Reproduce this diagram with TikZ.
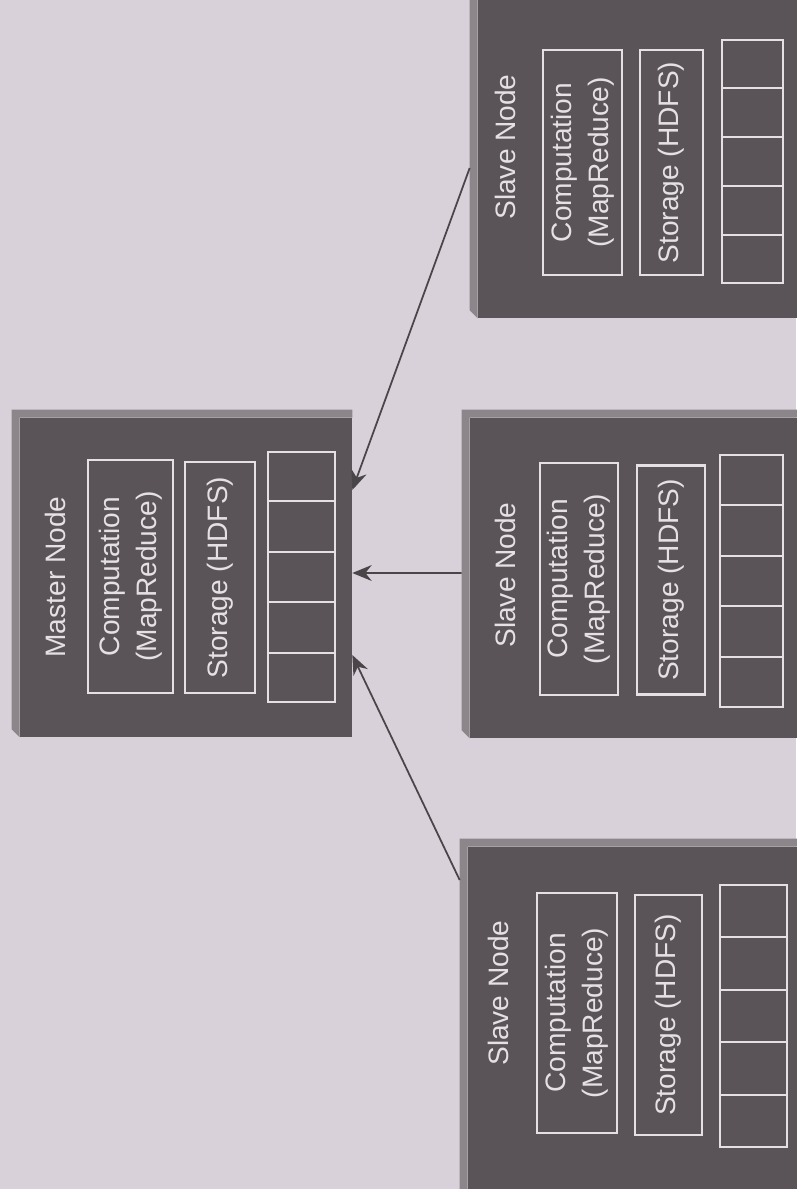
\documentclass[tikz,border=0pt]{standalone}
\usepackage{fontspec}
\setmainfont{Liberation Sans}
\usetikzlibrary{positioning, calc, arrows.meta}
\definecolor{pagegray}{HTML}{D9D1D9}
\definecolor{boxgray}{HTML}{5A5458}
\definecolor{edgegray}{HTML}{8C868A}
\definecolor{linegray}{HTML}{E4E0E4}
\definecolor{arrowgray}{HTML}{4A4548}

\begin{document}
\begin{tikzpicture}[x=0.02cm, y=-0.02cm,
  hostbox/.style={fill=boxgray, inner sep=0pt, minimum width=6.64cm, minimum height=6.38cm},
  partbox/.style={draw=linegray, line width=1.2pt, rotate=90, align=center, text=linegray,
    font=\fontsize{16}{21}\selectfont, inner sep=0pt},
  cellbox/.style={draw=linegray, line width=1.2pt, inner sep=0pt},
  hostlabel/.style={rotate=90, text=linegray, font=\fontsize{16}{19}\selectfont},
  link/.style={draw=arrowgray, line width=1pt, -{Stealth[length=11pt,width=9pt]}}]
  \useasboundingbox[fill=pagegray] (0,0) rectangle (796,1189);

  % the four machines
  \node[hostbox] (master) at (186,577.5) {};
  \node[hostbox, minimum width=6.64cm] (slaveA) at (644,158.5) {};
  \node[hostbox, minimum width=6.8cm, minimum height=6.4cm] (slaveB) at (640,578) {};
  \node[hostbox, minimum width=6.84cm, minimum height=7.06cm] (slaveC) at (639,1023.5) {};
  \foreach \b in {master,slaveA,slaveB,slaveC}
    \fill[edgegray] ([xshift=-0.16cm,yshift=0.16cm]\b.north west) -- ([yshift=0.16cm]\b.north east)
      -- (\b.north east) -- (\b.north west) -- (\b.south west)
      -- ([xshift=-0.16cm,yshift=0.16cm]\b.south west) -- cycle;

  % master
  \node[hostlabel] (mname) at (55,577) {Master Node};
  \node[partbox, minimum width=4.66cm, minimum height=1.7cm] (mcomp) at (130.5,576.5) {Computation\\(MapReduce)};
  \node[partbox, minimum width=4.62cm, minimum height=1.4cm] (mstore) at (220,577.5) {Storage (HDFS)};
  \node[cellbox, minimum width=1.34cm, minimum height=5cm] (mgrid) at (301.5,577) {};

  % slave, top
  \node[hostlabel] (aname) at (505,147) {Slave Node};
  \node[partbox, minimum width=4.5cm, minimum height=1.58cm] (acomp) at (582.5,162.5) {Computation\\(MapReduce)};
  \node[partbox, minimum width=4.5cm, minimum height=1.26cm] (astore) at (671.5,162.5) {Storage (HDFS)};
  \node[cellbox, minimum width=1.22cm, minimum height=4.86cm] (agrid) at (752.5,161.5) {};

  % slave, middle
  \node[hostlabel] (bname) at (505,575) {Slave Node};
  \node[partbox, minimum width=4.64cm, minimum height=1.56cm] (bcomp) at (579,579) {Computation\\(MapReduce)};
  \node[partbox, minimum width=4.58cm, minimum height=1.36cm] (bstore) at (671,580) {Storage (HDFS)};
  \node[cellbox, minimum width=1.26cm, minimum height=5.04cm] (bgrid) at (751.5,581) {};

  % slave, bottom
  \node[hostlabel] (cname) at (498,993) {Slave Node};
  \node[partbox, minimum width=4.8cm, minimum height=1.6cm] (ccomp) at (577,1013) {Computation\\(MapReduce)};
  \node[partbox, minimum width=4.8cm, minimum height=1.34cm] (cstore) at (668.5,1015) {Storage (HDFS)};
  \node[cellbox, minimum width=1.34cm, minimum height=5.24cm] (cgrid) at (753.5,1016) {};

  \foreach \g in {mgrid,agrid,bgrid,cgrid}
    \foreach \i in {1,...,4}
      \draw[linegray, line width=1.2pt] ($(\g.north west)!\i/5!(\g.south west)$) -- ($(\g.north east)!\i/5!(\g.south east)$);

  % links to the master
  \draw[link] ([xshift=-0.16cm,yshift=-0.19cm]slaveA.west) -- ([yshift=1.75cm]master.east);
  \draw[link] ([xshift=-0.16cm,yshift=0.1cm]slaveB.west) -- ([yshift=0.09cm]master.east);
  \draw[link] ([xshift=-0.16cm,yshift=2.87cm]slaveC.west) -- ([yshift=-1.55cm]master.east);
\end{tikzpicture}
\end{document}
